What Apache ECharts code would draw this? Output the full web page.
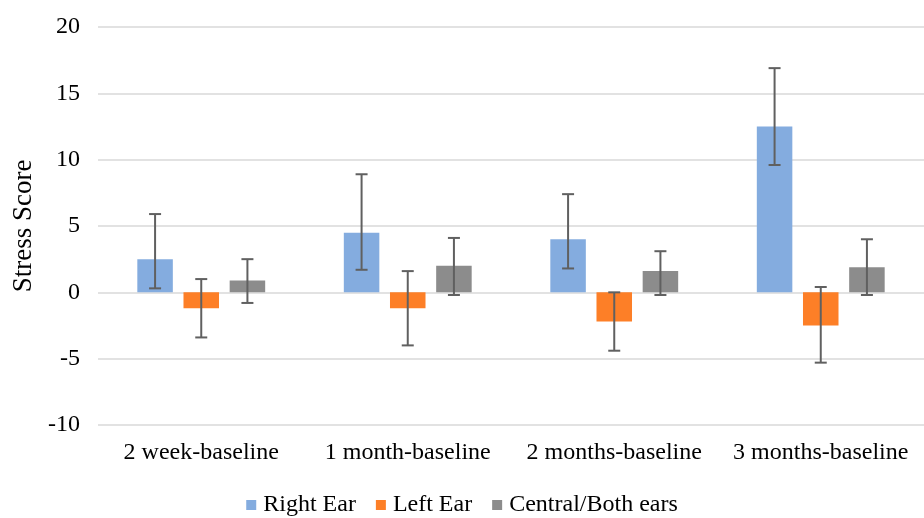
<!DOCTYPE html>
<html>
<head>
<meta charset="utf-8">
<script src="https://cdn.jsdelivr.net/npm/echarts@6/dist/echarts.min.js"></script>
<style>
  html, body { margin: 0; padding: 0; background: #fff; }
  #chart { width: 924px; height: 518px; }
</style>
</head>
<body>
<div id="chart"></div>
<script>
// Stress score change from baseline, by ear
const categories = ['2 week-baseline', '1 month-baseline', '2 months-baseline', '3 months-baseline'];
const seriesNames = ['Right Ear', 'Left Ear', 'Central/Both ears'];
const rightEar = [2.5, 4.5, 4.0, 12.5];
const leftEar = [-1.2, -1.2, -2.2, -2.5];
const centralEar = [0.9, 2.0, 1.6, 1.9];
// error bar ranges [low, high]
const rightErr = [[0.3, 5.9], [1.7, 8.9], [1.8, 7.4], [9.6, 16.9]];
const leftErr = [[-3.4, 1.0], [-4.0, 1.6], [-4.4, 0.0], [-5.3, 0.4]];
const centralErr = [[-0.8, 2.5], [-0.2, 4.1], [-0.2, 3.1], [-0.2, 4.0]];
const yTicks = { min: -10, max: 20, interval: 5 };

const colors = ['#84acdf', '#fd7f27', '#8c8c8c'];
const font = '"Liberation Serif", "Times New Roman", serif';
const barWidthFrac = 0.172;
const barGapFrac = 0.30;

function errorSeries(name, errs, idx) {
  return {
    type: 'custom',
    name: name + ' error',
    z: 5,
    silent: true,
    data: errs.map((e, i) => [i, e[0], e[1]]),
    renderItem: function (params, api) {
      const band = api.size([1, 0])[0];
      const offset = (idx - 1) * band * barWidthFrac * (1 + barGapFrac);
      const lo = api.coord([api.value(0), api.value(1)]);
      const hi = api.coord([api.value(0), api.value(2)]);
      const x = lo[0] + offset;
      const cap = 6;
      const style = { stroke: '#606060', lineWidth: 2 };
      return {
        type: 'group',
        children: [
          { type: 'line', shape: { x1: x, y1: lo[1], x2: x, y2: hi[1] }, style: style },
          { type: 'line', shape: { x1: x - cap, y1: lo[1], x2: x + cap, y2: lo[1] }, style: style },
          { type: 'line', shape: { x1: x - cap, y1: hi[1], x2: x + cap, y2: hi[1] }, style: style }
        ]
      };
    }
  };
}

const barData = [rightEar, leftEar, centralEar];
const errData = [rightErr, leftErr, centralErr];

const chart = echarts.init(document.getElementById('chart'), null, { renderer: 'canvas' });
chart.setOption({
  animation: false,
  textStyle: { fontFamily: font },
  color: colors,
  grid: { left: 98, right: 0, top: 27, bottom: 93 },
  legend: {
    data: seriesNames,
    top: 488,
    left: 'center',
    icon: 'rect',
    itemWidth: 10,
    itemHeight: 10,
    itemGap: 20,
    textStyle: { fontFamily: font, fontSize: 24, color: '#000', padding: [0, 0, 0, 2] }
  },
  xAxis: {
    type: 'category',
    data: categories,
    axisLine: { show: false },
    axisTick: { show: false },
    axisLabel: { fontFamily: font, fontSize: 24, color: '#000', margin: 16, interval: 0 },
    position: 'bottom'
  },
  yAxis: {
    type: 'value',
    min: yTicks.min,
    max: yTicks.max,
    interval: yTicks.interval,
    name: 'Stress Score',
    nameLocation: 'middle',
    nameGap: 61,
    nameTextStyle: { fontFamily: font, fontSize: 27, color: '#000' },
    axisLine: { show: false },
    axisTick: { show: false },
    axisLabel: { fontFamily: font, fontSize: 24, color: '#000', margin: 18 },
    splitLine: { lineStyle: { color: '#d9d9d9', width: 1.5 } }
  },
  series: seriesNames.map((n, i) => ({
    type: 'bar',
    name: n,
    data: barData[i],
    barWidth: (barWidthFrac * 100) + '%',
    barGap: (barGapFrac * 100) + '%',
    itemStyle: { color: colors[i] }
  })).concat(seriesNames.map((n, i) => errorSeries(n, errData[i], i)))
});
</script>
</body>
</html>
